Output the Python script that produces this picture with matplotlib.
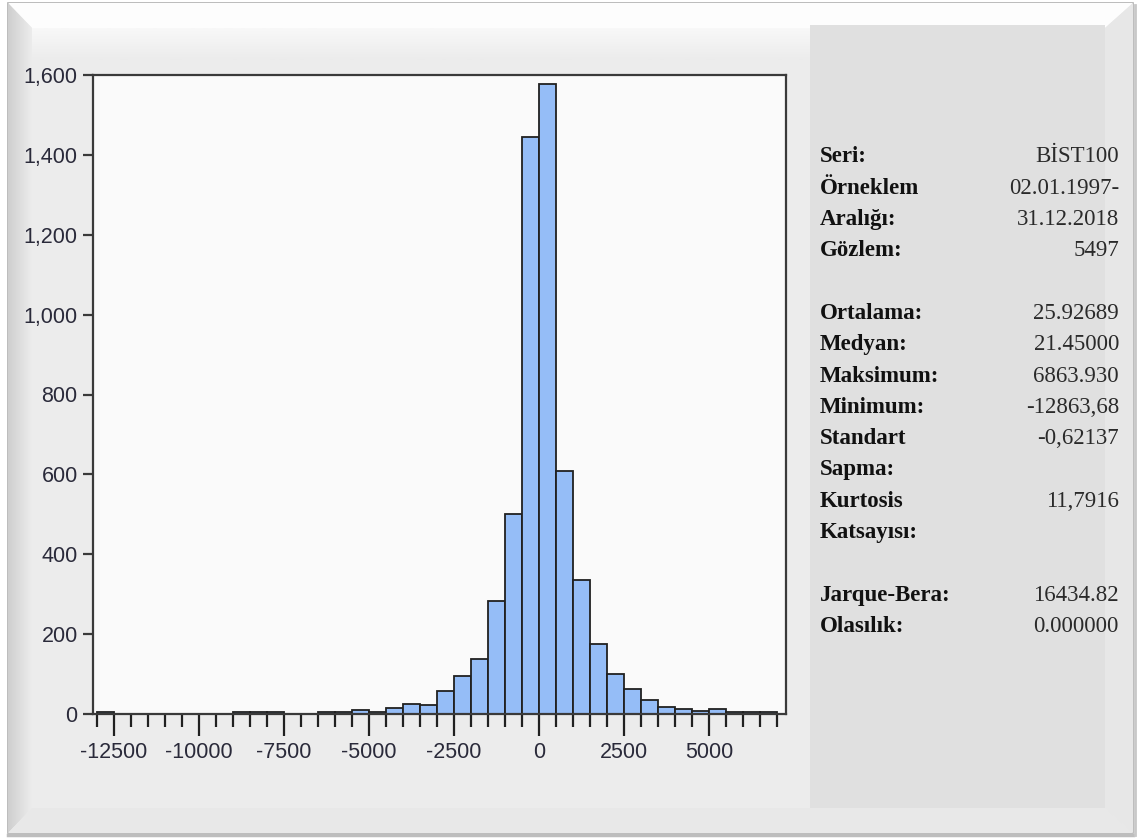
import numpy as np
import matplotlib
matplotlib.use("Agg")
import matplotlib.pyplot as plt
from matplotlib.patches import Rectangle, Polygon
from matplotlib.colors import LinearSegmentedColormap
from matplotlib.ticker import FuncFormatter, MultipleLocator

plt.rcParams['axes.unicode_minus'] = False

# --- data (bins of width 500) ---
bin_left = np.arange(-13000, 7000, 500)
counts = [5, 0, 0, 0, 0, 0, 0, 0, 5, 5, 5, 0, 0, 5, 5, 10, 6, 15, 26, 22,
          57, 94, 138, 284, 500, 1445, 1578, 608, 335, 175, 100, 63, 35, 18,
          12, 8, 12, 5, 5, 5]

stat_labels = ['Seri:', 'Örneklem', 'Aralığı:', 'Gözlem:', '',
               'Ortalama:', 'Medyan:', 'Maksimum:', 'Minimum:', 'Standart',
               'Sapma:', 'Kurtosis', 'Katsayısı:', '', 'Jarque-Bera:', 'Olasılık:']
stat_values = ['BİST100', '02.01.1997-', '31.12.2018', '5497', '',
               '25.92689', '21.45000', '6863.930', '-12863,68', '-0,62137',
               '', '11,7916', '', '', '16434.82', '0.000000']

W, H = 1139, 840
fig = plt.figure(figsize=(W / 100, H / 100), dpi=100, facecolor='white')

# background frame, drawn in pixel coordinates
bg = fig.add_axes([0, 0, 1, 1], zorder=-5)
bg.set_xlim(0, W)
bg.set_ylim(H, 0)
bg.axis('off')
bg.add_patch(Rectangle((8, 3), 1125, 830, facecolor='#ececec', edgecolor='#b0b0b0', lw=1.2))
bg.add_patch(Polygon([(8, 3), (1133, 3), (1105, 28), (32, 28)], closed=True,
                     facecolor='#fdfdfd', edgecolor='none'))
# left bevel with a soft gradient
lg = np.linspace(0, 1, 40).reshape(1, -1)
im = bg.imshow(lg, extent=(8, 32, 833, 3), aspect='auto', zorder=1,
               cmap=LinearSegmentedColormap.from_list('l', ['#cfcfcf', '#ececec']))
lp = Polygon([(8, 3), (32, 28), (32, 808), (8, 833)], closed=True, transform=bg.transData)
im.set_clip_path(lp)
bg.add_patch(Polygon([(8, 833), (32, 808), (1105, 808), (1133, 833)], closed=True,
                     facecolor='#e8e8e8', edgecolor='none', zorder=2))
bg.add_patch(Polygon([(1133, 3), (1105, 28), (1105, 808), (1133, 833)], closed=True,
                     facecolor='#e7e7e7', edgecolor='none', zorder=2))
# soft shade under the top bevel
tg = np.linspace(1, 0, 30).reshape(-1, 1)
bg.imshow(tg, extent=(32, 1105, 60, 28), aspect='auto', zorder=1,
          cmap=LinearSegmentedColormap.from_list('g', ['#ececec', '#f8f8f8']))
# right stats panel
bg.add_patch(Rectangle((810, 25), 295, 783, facecolor='#e0e0e0', edgecolor='none', zorder=3))
bg.plot([8, 1133], [835, 835], color='#bdbdbd', lw=2.5, zorder=4)
bg.plot([1135, 1135], [5, 835], color='#c8c8c8', lw=2, zorder=4)

# --- histogram ---
ax = fig.add_axes([93 / W, 1 - 714 / H, (786 - 93) / W, (714 - 75) / H])
ax.set_facecolor('#fafafa')
ax.bar(bin_left, counts, width=500, align='edge', color='#95bdf7',
       edgecolor='#202020', linewidth=1.3)
ax.set_xlim(-13120, 7257)
ax.set_ylim(0, 1600)

for s in ax.spines.values():
    s.set_color('#3a3a3a')
    s.set_linewidth(1.6)

ax.set_xticks([-12500, -10000, -7500, -5000, -2500, 0, 2500, 5000])
ax.xaxis.set_minor_locator(MultipleLocator(500))
ax.yaxis.set_major_locator(MultipleLocator(200))
ax.yaxis.set_major_formatter(FuncFormatter(lambda v, p: f'{int(v):,}'))
ax.tick_params(axis='x', which='major', direction='out', length=16, width=1.6,
               color='#202020', pad=4, labelsize=15.5, labelcolor='#2a2a3a')
ax.tick_params(axis='x', which='minor', direction='out', length=9, width=1.6, color='#202020')
ax.tick_params(axis='y', direction='out', length=7, width=1.6, color='#3a3a3a',
               pad=4, labelsize=15.5, labelcolor='#2a2a3a')
for lab in ax.get_xticklabels() + ax.get_yticklabels():
    lab.set_family('Liberation Sans')

# --- statistics panel ---
y0, dy = 157, 31.3
for i, (lab, val) in enumerate(zip(stat_labels, stat_values)):
    y = 1 - (y0 + i * dy) / H
    if lab:
        fig.text(820 / W, y, lab, ha='left', va='center', fontsize=16.5,
                 fontweight='bold', family='Liberation Serif', color='#111111')
    if val:
        fig.text(1119 / W, y, val, ha='right', va='center', fontsize=16.5,
                 family='Liberation Serif', color='#2a2a2a')

fig.savefig('out.png', dpi=100, facecolor=fig.get_facecolor())
